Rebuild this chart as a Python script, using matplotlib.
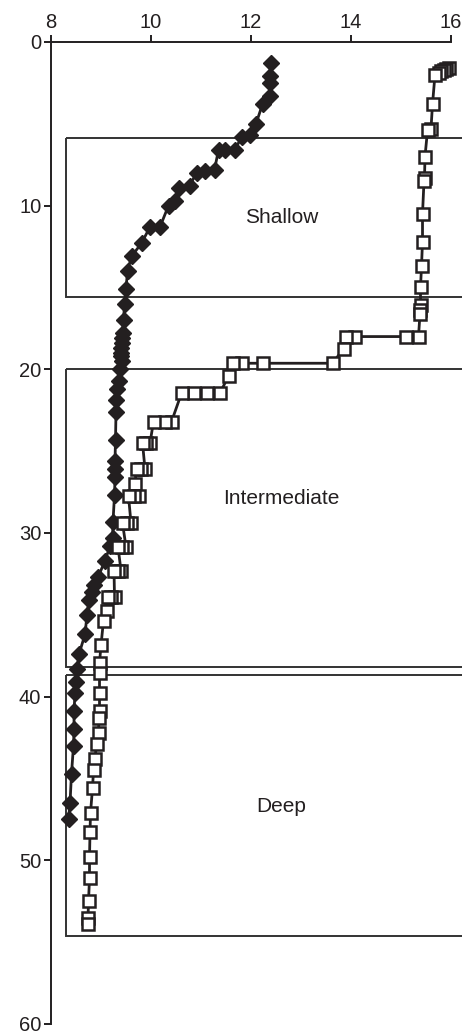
import matplotlib
matplotlib.use("Agg")
import matplotlib.pyplot as plt
from matplotlib.patches import Rectangle

plt.rcParams['font.family'] = ['Liberation Sans', 'DejaVu Sans']

# perfil com losangos pretos (x, profundidade)
diamond_x = [12.39, 12.38, 12.38, 12.37, 12.23, 12.10, 11.98, 11.81, 11.68, 11.48,
             11.35, 11.27, 11.08, 10.91, 10.77, 10.55, 10.48, 10.35, 10.18, 9.98,
             9.81, 9.61, 9.53, 9.50, 9.47, 9.45, 9.43, 9.42, 9.41, 9.40,
             9.39, 9.40, 9.41, 9.38, 9.35, 9.31, 9.30, 9.30, 9.29, 9.28,
             9.28, 9.28, 9.27, 9.24, 9.23, 9.18, 9.08, 8.94, 8.86, 8.82,
             8.76, 8.72, 8.68, 8.56, 8.52, 8.50, 8.48, 8.46, 8.46, 8.45,
             8.41, 8.38, 8.35]
diamond_depth = [1.3, 2.1, 2.5, 3.3, 3.8, 5.0, 5.7, 5.8, 6.6, 6.6,
                 6.6, 7.8, 7.9, 8.0, 8.8, 8.9, 9.7, 10.0, 11.3, 11.3,
                 12.3, 13.1, 14.0, 15.1, 16.0, 17.0, 17.8, 18.1, 18.4, 18.7,
                 19.0, 19.2, 19.5, 20.0, 20.7, 21.2, 21.9, 22.6, 24.3, 25.6,
                 26.1, 26.6, 27.7, 29.3, 30.3, 30.8, 31.7, 32.7, 33.2, 33.6,
                 34.1, 35.0, 36.2, 37.4, 38.3, 39.1, 39.8, 40.9, 42.0, 43.0,
                 44.7, 46.5, 47.5]

# perfil com quadrados abertos
square_x = [15.95, 15.90, 15.85, 15.80, 15.75, 15.68, 15.63, 15.60, 15.53, 15.48,
            15.47, 15.46, 15.43, 15.43, 15.41, 15.39, 15.39, 15.38, 15.38, 15.35,
            15.10, 14.08, 13.90, 13.85, 13.63, 12.23, 11.81, 11.63, 11.55, 11.38,
            11.11, 10.86, 10.61, 10.41, 10.28, 10.05, 9.98, 9.90, 9.83, 9.88,
            9.80, 9.71, 9.68, 9.75, 9.65, 9.55, 9.60, 9.52, 9.43, 9.50,
            9.42, 9.34, 9.40, 9.33, 9.26, 9.27, 9.20, 9.13, 9.11, 9.05,
            9.00, 8.97, 8.97, 8.97, 8.97, 8.96, 8.95, 8.91, 8.88, 8.85,
            8.83, 8.79, 8.78, 8.77, 8.77, 8.75, 8.74, 8.73]
square_depth = [1.6, 1.65, 1.7, 1.8, 1.9, 2.0, 3.8, 5.3, 5.4, 7.0,
                8.3, 8.5, 10.5, 12.2, 13.7, 15.0, 16.1, 16.4, 16.6, 18.0,
                18.0, 18.0, 18.0, 18.75, 19.63, 19.63, 19.63, 19.63, 20.4, 21.46,
                21.46, 21.46, 21.46, 23.2, 23.2, 23.2, 24.5, 24.5, 24.5, 26.1,
                26.1, 26.1, 27.0, 27.75, 27.75, 27.75, 29.4, 29.4, 29.4, 30.85,
                30.85, 30.85, 32.3, 32.3, 32.3, 33.9, 33.9, 33.9, 34.75, 35.35,
                36.85, 37.95, 38.56, 39.8, 40.9, 41.3, 42.2, 42.9, 43.8, 44.5,
                45.6, 47.1, 48.3, 49.8, 51.1, 52.5, 53.5, 53.9]

# zonas (nome, topo, base)
zone_names = ['Shallow', 'Intermediate', 'Deep']
zone_top = [5.85, 20.0, 38.7]
zone_bottom = [15.58, 38.16, 54.63]
zone_label_depth = [10.7, 27.9, 46.7]

fig = plt.figure(figsize=(4.62, 10.36), dpi=100)
ax = fig.add_axes([0.1104, 0.0116, 0.8658, 0.9479])

cor = '#231f20'
for nome, topo, base, yl in zip(zone_names, zone_top, zone_bottom, zone_label_depth):
    ax.add_patch(Rectangle((8.29, topo), 8.5, base - topo, fill=False,
                           edgecolor='#333333', linewidth=1.4, clip_on=False, zorder=1))
    ax.text(12.61, yl, nome, ha='center', va='center', fontsize=15, color=cor)

ax.plot(diamond_x, diamond_depth, color=cor, linewidth=2, marker='D',
        markersize=8, markerfacecolor=cor, markeredgecolor=cor, markeredgewidth=1,
        clip_on=False, zorder=3)
ax.plot(square_x, square_depth, color=cor, linewidth=2, marker='s',
        markersize=9.2, markerfacecolor='white', markeredgecolor=cor, markeredgewidth=1.8,
        clip_on=False, zorder=4)

ax.set_xlim(8, 16)
ax.set_ylim(60, 0)
ax.set_xticks([8, 10, 12, 14, 16])
ax.set_yticks([0, 10, 20, 30, 40, 50, 60])
ax.xaxis.tick_top()
ax.spines['bottom'].set_visible(False)
ax.spines['right'].set_visible(False)
for s in ['top', 'left']:
    ax.spines[s].set_linewidth(1.4)
    ax.spines[s].set_color(cor)
ax.tick_params(direction='out', length=5, width=1.4, color=cor, labelsize=14.5,
               labelcolor=cor, pad=2)
ax.patch.set_visible(False)

fig.savefig('out.png', dpi=100)
